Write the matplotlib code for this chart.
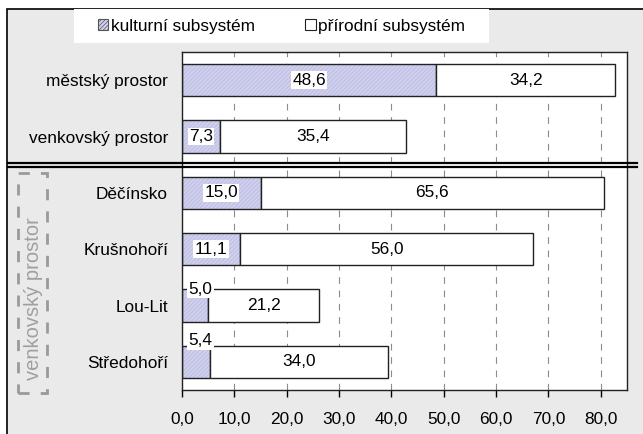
import matplotlib
matplotlib.use('Agg')
import matplotlib.pyplot as plt
from matplotlib.patches import Rectangle, Patch
from matplotlib.lines import Line2D
from matplotlib.ticker import FuncFormatter

# Data.
categories = ['městský prostor', 'venkovský prostor', 'Děčínsko',
              'Krušnohoří', 'Lou-Lit', 'Středohoří']
kulturni = [48.6, 7.3, 15.0, 11.1, 5.0, 5.4]
prirodni = [34.2, 35.4, 65.6, 56.0, 21.2, 34.0]
series_names = ['kulturní subsystém', 'přírodní subsystém']

plt.rcParams['font.family'] = ['Liberation Sans', 'DejaVu Sans']
plt.rcParams['hatch.linewidth'] = 0.5
FS = 12.4

W, H = 643, 434
fig = plt.figure(figsize=(W / 100, H / 100), dpi=100)
fig.patch.set_facecolor('white')


def fx(px):
    return px / W


def fy(py):
    return 1 - py / H


# Gray chart area with border (only top and left edges visible).
fig.patches.append(Rectangle((fx(7), -0.1), 1.2, fy(9) + 0.1,
                             transform=fig.transFigure, facecolor='#eaeaea',
                             edgecolor='black', linewidth=1.2, zorder=-2))

# Legend box.
fig.patches.append(Rectangle((fx(74), fy(43)), fx(489) - fx(74), fy(9) - fy(43),
                             transform=fig.transFigure, facecolor='white',
                             edgecolor='none', zorder=-1))

ax = fig.add_axes([fx(182), fy(390), fx(627) - fx(182), fy(52) - fy(390)])
ax.set_zorder(1)
ax.set_facecolor('white')

pos = list(range(len(categories)))
h = 0.57
kult_color = '#d0d0ee'

# kulturní: hatched fill, then outline
ax.barh(pos, kulturni, height=h, color=kult_color, edgecolor='#b8b8de',
        hatch='////////', linewidth=0, zorder=2)
ax.barh(pos, kulturni, height=h, fill=False, edgecolor='#222222',
        linewidth=1.0, zorder=3)
ax.barh(pos, prirodni, left=kulturni, height=h, color='white',
        edgecolor='#222222', linewidth=1.0, zorder=3)

box = dict(facecolor='white', edgecolor='none', pad=1.0)
lift = {4: 0.0, 5: 0.09}
for i in pos:
    k = kulturni[i]
    p = prirodni[i]
    if k < 6:
        ax.text(3.5, i - h / 2 - lift[i], f'{k:.1f}'.replace('.', ','),
                ha='center', va='center', fontsize=FS, bbox=box, zorder=4)
    else:
        ax.text(k / 2, i, f'{k:.1f}'.replace('.', ','), ha='center',
                va='center', fontsize=FS, bbox=box, zorder=4)
    ax.text(k + p / 2, i, f'{p:.1f}'.replace('.', ','), ha='center',
            va='center', fontsize=FS, bbox=box, zorder=4)

ax.set_xlim(0, 85)
ax.set_ylim(len(categories) - 0.5, -0.5)
ax.set_xticks(range(0, 81, 10))
ax.xaxis.set_major_formatter(FuncFormatter(lambda v, _: f'{v:.1f}'.replace('.', ',')))
ax.set_yticks(pos)
ax.set_yticklabels(categories)
ax.tick_params(axis='y', length=0, pad=10, labelsize=FS)
ax.tick_params(axis='x', length=5, width=1, direction='out', pad=10.5,
               labelsize=FS)
ax.grid(axis='x', color='#8c8c8c', linestyle=(0, (6, 6)), linewidth=0.8,
        zorder=1)
ax.set_axisbelow(True)
for s in ax.spines.values():
    s.set_color('#222222')
    s.set_linewidth(1.0)

# Double separator line.
for yy in (163, 167):
    fig.lines.append(Line2D([fx(8), fx(637)], [fy(yy), fy(yy)],
                            transform=fig.transFigure, color='black',
                            linewidth=1.6, zorder=5))

# Dashed group box with rotated label.
fig.patches.append(Rectangle((fx(18), fy(393)), fx(47) - fx(18), fy(173) - fy(393),
                             transform=fig.transFigure, fill=False,
                             edgecolor='#9a9a9a', linewidth=2,
                             linestyle=(0, (4, 4)), zorder=2))
fig.text(fx(34), fy(299), 'venkovský prostor', rotation=90, ha='center',
         va='center', color='#a0a0a0', fontsize=14.5)

# Legend.
handles = [Patch(facecolor=kult_color, edgecolor='#555555', hatch='////////',
                 linewidth=0.8),
           Patch(facecolor='white', edgecolor='#222222', linewidth=0.8)]
fig.legend(handles, series_names, loc='center left',
           bbox_to_anchor=(fx(89), fy(26)), ncol=2, frameon=False,
           fontsize=FS, handlelength=0.6, handleheight=0.6,
           handletextpad=0.15, columnspacing=2.95, borderpad=0)

fig.savefig('out.png', dpi=100)
